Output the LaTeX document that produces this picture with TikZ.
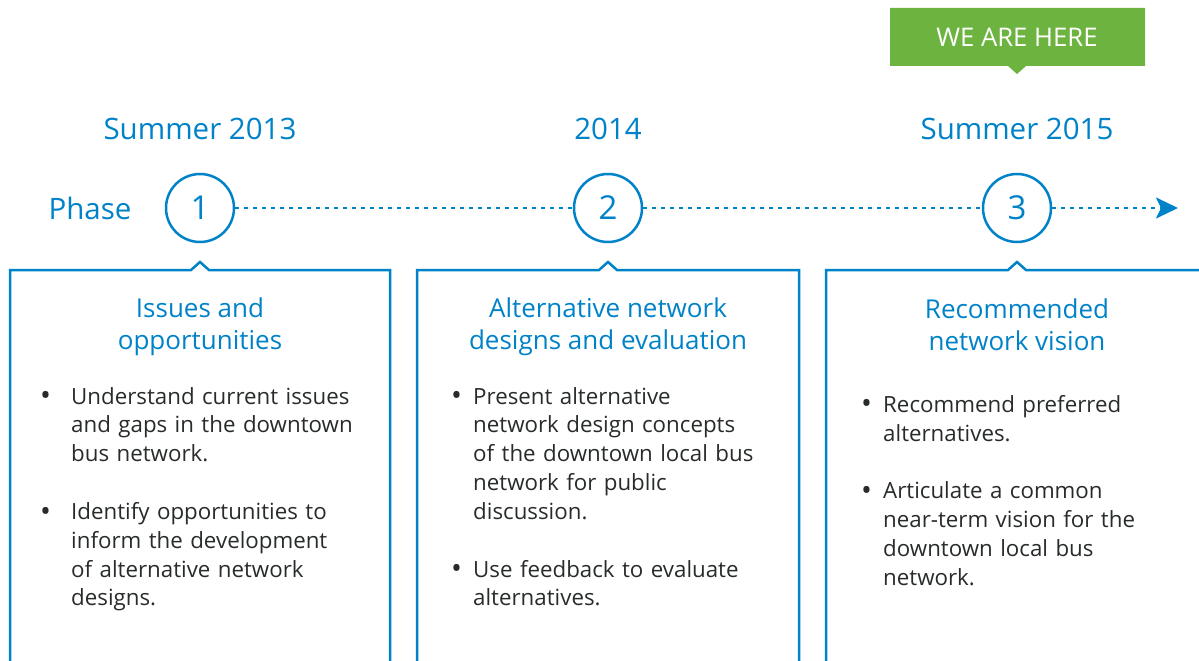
\documentclass[tikz,border=0pt]{standalone}
\usepackage{fontspec}
\setmainfont{Open Sans}
\usetikzlibrary{arrows.meta}
\definecolor{phaseblue}{RGB}{0,130,200}
\definecolor{heregreen}{RGB}{108,179,63}
\definecolor{bodygray}{RGB}{40,43,43}
\newcommand{\bitem}[2][22pt]{\hangindent=#1\hangafter=1\noindent\makebox[#1][l]{\raisebox{-1.5pt}{\fontsize{29}{0}\selectfont\textbullet}}#2\par}
\tikzset{
  phasenum/.style={draw=phaseblue, line width=2.5pt, circle, minimum size=68pt, inner sep=0pt,
    text=phaseblue, font=\fontsize{33}{33}\selectfont},
  when/.style={text=phaseblue, font=\fontsize{29.5}{29.5}\selectfont},
  boxtitle/.style={text=phaseblue, align=center, inner sep=0pt, font=\fontsize{26}{32}\selectfont},
  items/.style={text=bodygray, text width=360pt, align=left, anchor=north west, inner sep=0pt,
    font=\fontsize{22.3}{28.8}\selectfont},
  frame/.style={draw=phaseblue, line width=2.5pt},
  link/.style={draw=phaseblue, line width=2.6pt, dash pattern=on 3.5pt off 5.5pt}
}

\begin{document}
\begin{tikzpicture}[x=1pt,y=-1pt]
		%%%%% START %%%%%
		\useasboundingbox (0,0) rectangle (1199,661);
		
		% we are here tag
		\fill[heregreen] (890,8) -- (1145,8) -- (1145,66) -- (1026,66) -- (1017,74) -- (1008,66) -- (890,66) -- cycle;
		\node[text=white, font=\fontsize{25.7}{25.7}\selectfont] (here) at (1017,37) {WE ARE HERE};
		
		% dates
		\node[when] (d1) at (200,129) {Summer 2013};
		\node[when] (d2) at (608,129) {2014};
		\node[when] (d3) at (1017,129) {Summer 2015};
		
		% phase line
		\node[when] (phase) at (90,208) {Phase};
		\node[phasenum] (p1) at (200,208) {1};
		\node[phasenum] (p2) at (608,208) {2};
		\node[phasenum] (p3) at (1017,208) {3};
		\coordinate (tip) at (1178,208);
		\draw[link] (p1) -- (p2);
		\draw[link] (p2) -- (p3);
		\draw[link, -{Stealth[length=22pt,width=21pt,inset=5pt]}] (p3) -- (tip);
		
		% boxes
		\draw[frame] (10,662) |- (191,270) -- (200,262) -- (209,270) -| (390,662);
		\draw[frame] (417,662) |- (599,270) -- (608,262) -- (617,270) -| (799,662);
		\draw[frame] (826,662) |- (1008,270) -- (1017,262) -- (1026,270) -- (1200,270);
		
		% titles
		\node[boxtitle] (t1) at (200,327) {Issues and\\opportunities};
		\node[boxtitle] (t2) at (608,327) {Alternative network\\designs and evaluation};
		\node[boxtitle] (t3) at (1017,325) {Recommended\\network vision};
		
		% bullet lists
		\node[items] (l1) at (40,387) {%
			\bitem[31pt]{Understand current issues\newline and gaps in the downtown\newline bus network.}
			\vspace{29pt}
			\bitem[31pt]{Identify opportunities to\newline inform the development\newline of alternative network\newline designs.}};
		\node[items] (l2) at (451,387) {%
			\bitem{Present alternative\newline network design concepts\newline of the downtown local bus\newline network for public\newline discussion.}
			\vspace{29pt}
			\bitem{Use feedback to evaluate\newline alternatives.}};
		\node[items] (l3) at (861,395) {%
			\bitem{Recommend preferred\newline alternatives.}
			\vspace{29pt}
			\bitem{Articulate a common\newline near-term vision for the\newline downtown local bus\newline network.}};
		
		%%%%% END %%%%%
\end{tikzpicture}
\end{document}
